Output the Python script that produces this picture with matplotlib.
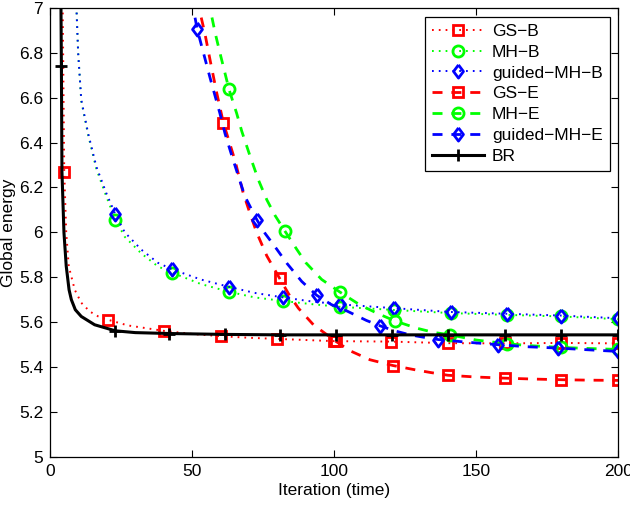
import matplotlib
matplotlib.use("Agg")
import matplotlib.pyplot as plt
from matplotlib.lines import Line2D

plt.rcParams['font.family'] = ['Liberation Sans', 'DejaVu Sans']

# ---------------- data ----------------
labels = ["GS\u2212B", "MH\u2212B", "guided\u2212MH\u2212B", "GS\u2212E", "MH\u2212E", "guided\u2212MH\u2212E", "BR"]

gsb_x = [4.4, 5, 5.7, 6.6, 8.7, 11, 14, 17, 20.5, 27.4, 40, 50, 60, 70, 80, 100, 120, 140, 160, 180, 200]
gsb_y = [7.1, 6.27, 6.0, 5.848, 5.744, 5.686, 5.647, 5.625, 5.61, 5.585, 5.561, 5.547, 5.537, 5.530, 5.525, 5.515, 5.513, 5.506, 5.505, 5.507, 5.505]
gsb_mx = [5, 20.5, 40, 60, 80, 100, 120, 140, 160, 180, 200]
gsb_my = [6.27, 5.61, 5.561, 5.537, 5.525, 5.515, 5.513, 5.506, 5.505, 5.507, 5.505]

mhb_x = [8.9, 9.3, 9.9, 11, 13.4, 16.3, 19.8, 23, 26.3, 32.2, 38, 43, 53, 63, 72, 82, 92, 102, 121, 141, 161, 180, 200]
mhb_y = [7.1, 7.0, 6.8, 6.585, 6.435, 6.283, 6.16, 6.057, 5.98, 5.905, 5.848, 5.82, 5.77, 5.735, 5.71, 5.694, 5.68, 5.668, 5.654, 5.64, 5.632, 5.625, 5.613]
mhb_mx = [23, 43, 63, 82, 102, 121, 141, 161, 180, 200]
mhb_my = [6.057, 5.82, 5.735, 5.694, 5.668, 5.654, 5.64, 5.632, 5.625, 5.613]

gmhb_x = [8.9, 9.3, 9.9, 11, 13.4, 16.3, 19.8, 23, 26.3, 32.2, 38, 43, 53, 63, 72, 82, 92, 102, 121, 141, 161, 180, 200]
gmhb_y = [7.1, 7.0, 6.8, 6.59, 6.442, 6.293, 6.175, 6.08, 6.0, 5.922, 5.864, 5.835, 5.79, 5.757, 5.73, 5.71, 5.692, 5.679, 5.662, 5.645, 5.637, 5.629, 5.617]
gmhb_mx = [23, 43, 63, 82, 102, 121, 141, 161, 180, 200]
gmhb_my = [6.08, 5.835, 5.757, 5.71, 5.679, 5.662, 5.645, 5.637, 5.629, 5.617]

gse_x = [51.9, 52.8, 54.5, 56.3, 58.7, 61, 62.8, 65.1, 68, 70.5, 72.7, 76.3, 80.8, 84, 87.4, 92.7, 100.5, 105.6, 112.6, 120.8, 129, 134, 140, 150, 160, 170, 180, 190, 200]
gse_y = [7.05, 6.98, 6.887, 6.77, 6.62, 6.489, 6.415, 6.32, 6.175, 6.08, 6.0, 5.895, 5.795, 5.725, 5.662, 5.588, 5.515, 5.472, 5.432, 5.406, 5.386, 5.375, 5.363, 5.355, 5.35, 5.346, 5.343, 5.341, 5.34]
gse_mx = [61, 80.8, 100.5, 120.8, 140, 160, 180, 200]
gse_my = [6.489, 5.795, 5.515, 5.406, 5.363, 5.35, 5.343, 5.34]

mhe_x = [55.5, 56.3, 58.1, 59.8, 63, 65.7, 67.5, 70.4, 73.3, 76.3, 79.2, 82.7, 86.8, 90, 95.6, 102, 109, 115, 121.4, 129, 135, 140.8, 150, 161, 170, 180, 190, 200]
mhe_y = [7.05, 7.0, 6.89, 6.80, 6.637, 6.53, 6.45, 6.34, 6.235, 6.145, 6.075, 6.005, 5.925, 5.865, 5.79, 5.734, 5.677, 5.64, 5.605, 5.573, 5.554, 5.543, 5.52, 5.503, 5.494, 5.487, 5.482, 5.478]
mhe_mx = [63, 82.7, 102, 121.4, 140.8, 161, 180, 200]
mhe_my = [6.637, 6.005, 5.734, 5.605, 5.543, 5.503, 5.487, 5.478]

gmhe_x = [50.0, 50.7, 51.8, 54, 56.3, 57.5, 59.8, 61.6, 63.9, 66.3, 68.6, 72.8, 75.7, 79.8, 83.3, 88.6, 93.8, 99, 104.4, 111.4, 116, 121, 126.7, 132.6, 136.7, 147, 157.8, 168, 178.9, 190, 200]
gmhe_y = [7.05, 6.98, 6.905, 6.80, 6.69, 6.635, 6.53, 6.44, 6.345, 6.25, 6.16, 6.056, 5.995, 5.925, 5.863, 5.781, 5.72, 5.678, 5.65, 5.607, 5.584, 5.562, 5.543, 5.53, 5.522, 5.51, 5.499, 5.49, 5.484, 5.476, 5.469]
gmhe_mx = [51.8, 72.8, 93.8, 116, 136.7, 157.8, 178.9, 200]
gmhe_my = [6.905, 6.056, 5.72, 5.584, 5.522, 5.499, 5.484, 5.469]

br_x = [3.8, 4.0, 4.2, 4.9, 5.7, 6.7, 7.5, 8.9, 11, 15.7, 23, 30, 42, 61.5, 81, 100.5, 120.5, 140, 160, 180, 200]
br_y = [7.1, 6.74, 6.27, 6.0, 5.85, 5.744, 5.70, 5.655, 5.625, 5.588, 5.561, 5.553, 5.549, 5.545, 5.543, 5.543, 5.543, 5.543, 5.543, 5.543, 5.543]
br_mx = [4, 23, 42, 61.5, 81, 100.5, 120.5, 140, 160, 180, 200]
br_my = [6.74, 5.561, 5.549, 5.545, 5.543, 5.543, 5.543, 5.543, 5.543, 5.543, 5.543]

x_ticks = [0, 50, 100, 150, 200]
y_ticks = [5, 5.2, 5.4, 5.6, 5.8, 6, 6.2, 6.4, 6.6, 6.8, 7]
y_tick_labels = ["5", "5.2", "5.4", "5.6", "5.8", "6", "6.2", "6.4", "6.6", "6.8", "7"]

# ---------------- styling ----------------
diamond = [(0, 1), (0.75, 0), (0, -1), (-0.75, 0), (0, 1)]
dotted = (0, (0.9, 2.6))
dashed = (0, (3.6, 3.2))

series = [
    (gsb_x, gsb_y, gsb_mx, gsb_my, 'red', dotted, 1.4, 's', 7.5),
    (mhb_x, mhb_y, mhb_mx, mhb_my, 'lime', dotted, 1.4, 'o', 8),
    (gmhb_x, gmhb_y, gmhb_mx, gmhb_my, 'blue', dotted, 1.4, diamond, 9.5),
    (gse_x, gse_y, gse_mx, gse_my, 'red', dashed, 2.0, 's', 7.5),
    (mhe_x, mhe_y, mhe_mx, mhe_my, 'lime', dashed, 2.0, 'o', 8),
    (gmhe_x, gmhe_y, gmhe_mx, gmhe_my, 'blue', dashed, 2.0, diamond, 9.5),
    (br_x, br_y, br_mx, br_my, 'black', '-', 2.2, '+', 9),
]

fig = plt.figure(figsize=(6.3, 5.09), dpi=100)
ax = fig.add_axes([0.0794, 0.1028, 0.9020, 0.8815])

handles = []
for (x, y, mx, my, c, ls, lw, mk, ms), lab in zip(series, labels):
    ax.plot(x, y, color=c, linestyle=ls, linewidth=lw)
    ax.plot(mx, my, linestyle='none', marker=mk, markersize=ms,
            markerfacecolor='none', markeredgecolor=c, markeredgewidth=2.0)
    handles.append(Line2D([], [], color=c, linestyle=ls, linewidth=lw, marker=mk,
                          markersize=ms, markerfacecolor='none', markeredgecolor=c,
                          markeredgewidth=2.0, label=lab))

ax.set_xlim(0, 200)
ax.set_ylim(5, 7)
ax.set_xticks(x_ticks)
ax.set_yticks(y_ticks)
ax.set_yticklabels(y_tick_labels)
ax.tick_params(direction='in', top=True, right=True, length=5, width=0.8,
               labelsize=12.5, pad=5)
for s in ax.spines.values():
    s.set_linewidth(0.9)

ax.set_xlabel("Iteration (time)", fontsize=12.5, labelpad=3)
ax.set_ylabel("Global energy", fontsize=12.5, labelpad=2)

leg = ax.legend(handles=handles, loc='upper right', fontsize=12.5, handlelength=3.0,
                numpoints=1, fancybox=False, framealpha=1, edgecolor='black',
                borderaxespad=0.5, labelspacing=0.33, handletextpad=0.45,
                borderpad=0.4)
leg.get_frame().set_linewidth(0.9)

fig.savefig("out.png", dpi=100)
